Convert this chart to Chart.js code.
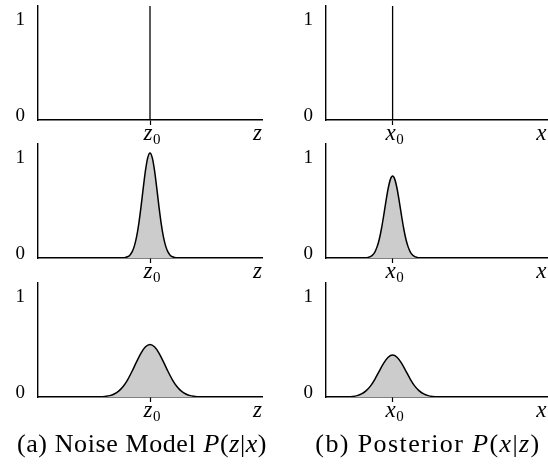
<!DOCTYPE html>
<html>
<head>
<meta charset="utf-8">
<script src="https://cdn.jsdelivr.net/npm/chart.js@4.4.0/dist/chart.umd.min.js"></script>
<style>
    body { margin: 0; background: #fff; width: 548px; height: 468px; position: relative; overflow: hidden; font-family: "Liberation Serif", serif; }
    canvas { position: absolute; }
    .cap { position: absolute; top: 431px; font-size: 26px; line-height: 25px; white-space: nowrap; transform: translateX(-50%); color: #000; }
</style>
</head>
<body>
<canvas id="noiseDelta" width="270" height="150" style="left:0;top:0"></canvas>
<canvas id="noiseNarrow" width="270" height="150" style="left:0;top:138px"></canvas>
<canvas id="noiseWide" width="270" height="150" style="left:0;top:277px"></canvas>
<canvas id="postDelta" width="260" height="150" style="left:288px;top:0"></canvas>
<canvas id="postNarrow" width="260" height="150" style="left:288px;top:138px"></canvas>
<canvas id="postWide" width="260" height="150" style="left:288px;top:277px"></canvas>
<div class="cap" style="left:142px;letter-spacing:0.6px">(a) Noise Model <i>P</i>(<i>z</i>|<i>x</i>)</div>
<div class="cap" style="left:428px;letter-spacing:1.4px">(b) Posterior <i>P</i>(<i>x</i>|<i>z</i>)</div>

<script>
/*
    *donnees :
*/
const yTicks = [0, 1];
const yTickLabels = ['0', '1'];
const yMax = 1.086;

// panneau (a) : modele de bruit, centre en z0
const zTicks = [50, 98];
const zTickLabels = [['z', '0'], ['z']];
const zSpike = [[50, 0], [50, 1.086]];

const zNarrowX = [0, 38, 39, 40, 41, 42, 43, 44, 45, 46, 47, 48, 49, 50, 51, 52, 53, 54, 55, 56, 57, 58, 59, 60, 61, 62, 100];
const zNarrowY = [0, 0.002, 0.005, 0.012, 0.027, 0.058, 0.113, 0.201, 0.328, 0.490, 0.670, 0.837, 0.956, 1.0,
    0.956, 0.837, 0.670, 0.490, 0.328, 0.201, 0.113, 0.058, 0.027, 0.012, 0.005, 0.002, 0];

const zWideX = [0, 28, 30, 32, 34, 36, 38, 40, 42, 44, 46, 48, 50, 52, 54, 56, 58, 60, 62, 64, 66, 68, 70, 72, 100];
const zWideY = [0, 0.002, 0.006, 0.013, 0.029, 0.056, 0.100, 0.164, 0.245, 0.335, 0.418, 0.478, 0.50,
    0.478, 0.418, 0.335, 0.245, 0.164, 0.100, 0.056, 0.029, 0.013, 0.006, 0.002, 0];

// panneau (b) : posterieur, centre en x0
const xTicks = [30, 97];
const xTickLabels = [['x', '0'], ['x']];
const xSpike = [[30, 0], [30, 1.086]];

const xNarrowX = [0, 18, 19, 20, 21, 22, 23, 24, 25, 26, 27, 28, 29, 30, 31, 32, 33, 34, 35, 36, 37, 38, 39, 40, 41, 42, 100];
const xNarrowY = [0, 0.002, 0.006, 0.013, 0.029, 0.057, 0.106, 0.179, 0.281, 0.406, 0.540, 0.662, 0.749, 0.78,
    0.749, 0.662, 0.540, 0.406, 0.281, 0.179, 0.106, 0.057, 0.029, 0.013, 0.006, 0.002, 0];

const xWideX = [0, 10, 12, 14, 16, 18, 20, 22, 24, 26, 28, 30, 32, 34, 36, 38, 40, 42, 44, 46, 48, 50, 100];
const xWideY = [0, 0.002, 0.005, 0.013, 0.029, 0.058, 0.104, 0.169, 0.247, 0.323, 0.379, 0.40,
    0.379, 0.323, 0.247, 0.169, 0.104, 0.058, 0.029, 0.013, 0.005, 0.002, 0];

/*
    *etiquettes des axes (style LaTeX, indice en dessous) :
*/
const axisText = {
    id: 'axisText',
    afterDraw(chart, args, opts) {
        const { ctx, scales } = chart;
        const xs = scales.x, ys = scales.y;
        ctx.save();
        ctx.fillStyle = '#000';
        ctx.textBaseline = 'alphabetic';

        // y : 0 et 1
        ctx.font = '19px "Liberation Serif"';
        ctx.textAlign = 'right';
        yTicks.forEach((v, i) => {
            const nudge = v === 0 ? -5.5 : 3.5;
            ctx.fillText(yTickLabels[i], ys.left + ys.width - 13, ys.getPixelForValue(v) + nudge + 6.5);
        });

        // x : z0 / z  ou  x0 / x
        ctx.textAlign = 'left';
        opts.values.forEach((v, i) => {
            const [base, sub] = opts.labels[i];
            const px = xs.getPixelForValue(v);
            ctx.font = 'italic 23px "Liberation Serif"';
            const wb = ctx.measureText(base).width;
            const left = sub ? px - wb / 2 - 2 : px - wb / 2;
            ctx.fillText(base, left, xs.top + 20);
            if (sub) {
                ctx.font = '15px "Liberation Serif"';
                ctx.fillText(sub, left + wb + 0.5, xs.top + 24);
            }
        });
        ctx.restore();
    }
};

function toPoints(xv, yv) {
    return xv.map((x, i) => ({ x: x, y: yv[i] }));
}

function makePanel(id, rightPad, ticks, labels, datasets) {
    return new Chart(document.getElementById(id), {
        type: 'line',
        data: { datasets: datasets },
        options: {
            responsive: false,
            animation: false,
            events: [],
            layout: { padding: { top: 6, right: rightPad, left: 0, bottom: 0 } },
            plugins: {
                legend: { display: false },
                tooltip: { enabled: false },
                axisText: { values: ticks, labels: labels }
            },
            elements: { point: { radius: 0 } },
            scales: {
                x: {
                    type: 'linear',
                    min: 0,
                    max: 100,
                    afterBuildTicks: (scale) => { scale.ticks = ticks.map(v => ({ value: v })); },
                    afterFit: (scale) => { scale.height = 30; },
                    ticks: { display: false },
                    grid: {
                        drawOnChartArea: false,
                        drawTicks: true,
                        tickLength: 5,
                        tickWidth: 1.2,
                        tickColor: (c) => c.index === 0 ? '#000' : 'rgba(0,0,0,0)'
                    },
                    border: { display: true, color: '#000', width: 1.4 }
                },
                y: {
                    min: 0,
                    max: yMax,
                    afterFit: (scale) => { scale.width = 38; },
                    ticks: { display: false },
                    grid: { display: false },
                    border: { display: true, color: '#000', width: 1.4 }
                }
            }
        },
        plugins: [axisText]
    });
}

function spike(points) {
    return {
        data: points.map(p => ({ x: p[0], y: p[1] })),
        borderColor: '#000',
        borderWidth: 1.3,
        fill: false
    };
}

function bump(xv, yv) {
    return {
        data: toPoints(xv, yv),
        borderColor: '#000',
        borderWidth: 1.5,
        backgroundColor: '#cccccc',
        fill: 'origin',
        cubicInterpolationMode: 'monotone'
    };
}

makePanel('noiseDelta', 8, zTicks, zTickLabels, [spike(zSpike)]);
makePanel('noiseNarrow', 8, zTicks, zTickLabels, [bump(zNarrowX, zNarrowY)]);
makePanel('noiseWide', 8, zTicks, zTickLabels, [bump(zWideX, zWideY)]);
makePanel('postDelta', 0, xTicks, xTickLabels, [spike(xSpike)]);
makePanel('postNarrow', 0, xTicks, xTickLabels, [bump(xNarrowX, xNarrowY)]);
makePanel('postWide', 0, xTicks, xTickLabels, [bump(xWideX, xWideY)]);
</script>
</body>
</html>
